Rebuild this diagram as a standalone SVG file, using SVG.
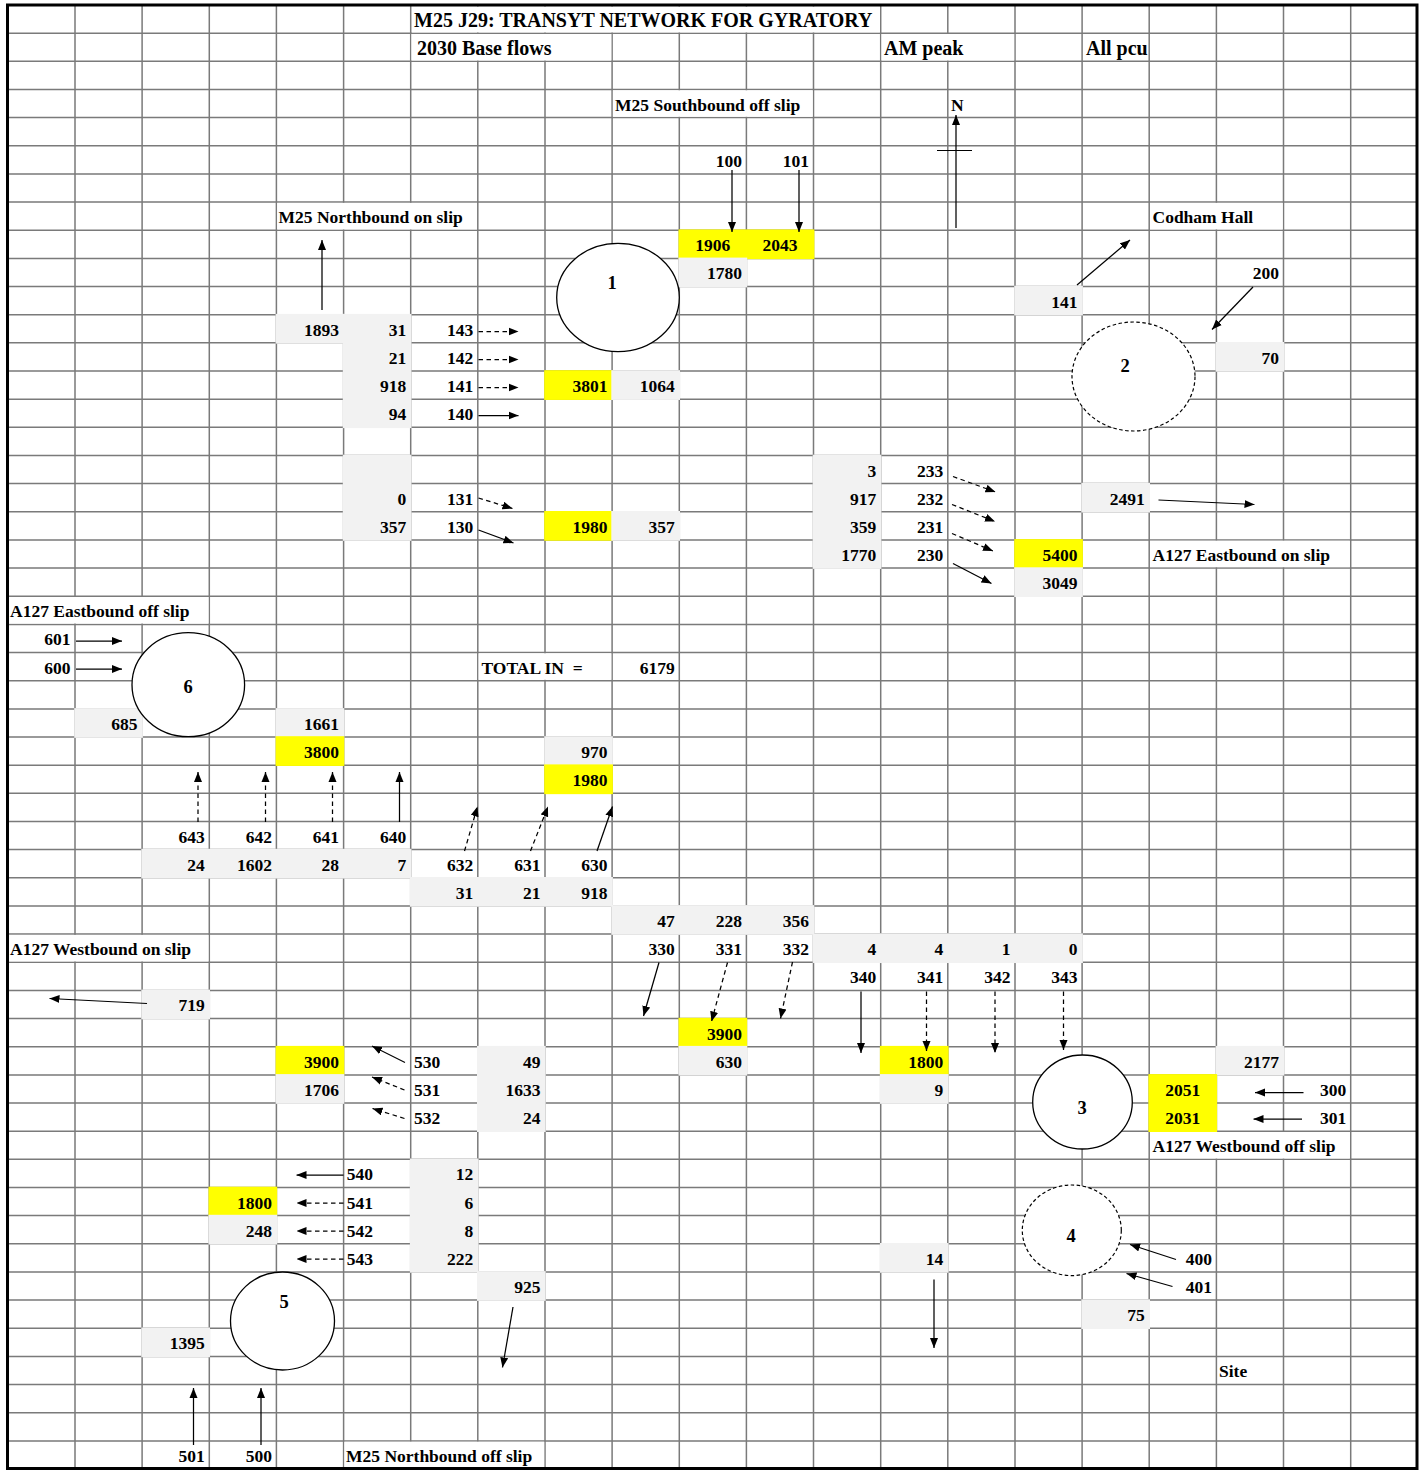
<svg xmlns="http://www.w3.org/2000/svg" width="1423" height="1470" viewBox="0 0 1423 1470">
<defs>
<style>
.grid{stroke:#7a7a7a;stroke-width:1.5;fill:none}
.ov{fill:#fff}
.g{fill:#f2f2f2}
.y{fill:#ffff00}
.c{fill:#fff;stroke:#000;stroke-width:1.3}
.cd{fill:#fff;stroke:#000;stroke-width:1.2;stroke-dasharray:3.5 2.5}
.a{stroke:#000;stroke-width:1.25;fill:none;marker-end:url(#ah)}
.d{stroke:#000;stroke-width:1.25;fill:none;stroke-dasharray:4.5 3.5;marker-end:url(#ah)}
text{font-family:"Liberation Serif","Times New Roman",serif;font-weight:bold;font-size:17.5px;fill:#000}
.h{font-size:20px}
.r{text-anchor:end}
.m{text-anchor:middle}
.n{font-size:18.5px}
</style>
<marker id="ah" viewBox="0 0 10 8" refX="10" refY="4" markerWidth="10" markerHeight="8.5" markerUnits="userSpaceOnUse" orient="auto"><path d="M0,0L10,4L0,8z" fill="#000"/></marker>
</defs>
<rect x="0" y="0" width="1423" height="1470" fill="#fff"/>
<g id="grid">
<path class="grid" d="M75,5V1469M142.1,5V1469M209.3,5V1469M276.4,5V1469M343.6,5V1469M410.7,5V1469M477.8,5V1469M545,5V1469M612.1,5V1469M679.3,5V1469M746.4,5V1469M813.5,5V1469M880.7,5V1469M947.8,5V1469M1015,5V1469M1082.1,5V1469M1149.2,5V1469M1216.4,5V1469M1283.5,5V1469M1350.7,5V1469"/>
<path class="grid" d="M8,33.2H1417M8,61.3H1417M8,89.5H1417M8,117.6H1417M8,145.8H1417M8,173.9H1417M8,202.1H1417M8,230.2H1417M8,258.4H1417M8,286.5H1417M8,314.7H1417M8,342.8H1417M8,371H1417M8,399.2H1417M8,427.3H1417M8,455.5H1417M8,483.6H1417M8,511.8H1417M8,539.9H1417M8,568.1H1417M8,596.2H1417M8,624.4H1417M8,652.5H1417M8,680.7H1417M8,708.9H1417M8,737H1417M8,765.2H1417M8,793.3H1417M8,821.5H1417M8,849.6H1417M8,877.8H1417M8,905.9H1417M8,934.1H1417M8,962.2H1417M8,990.4H1417M8,1018.6H1417M8,1046.7H1417M8,1074.9H1417M8,1103H1417M8,1131.2H1417M8,1159.3H1417M8,1187.5H1417M8,1215.6H1417M8,1243.8H1417M8,1271.9H1417M8,1300.1H1417M8,1328.3H1417M8,1356.4H1417M8,1384.6H1417M8,1412.7H1417M8,1440.9H1417"/>
</g>
<g id="overflow">
<rect class="ov" x="412" y="6.5" width="467.9" height="25.9"/>
<rect class="ov" x="411.5" y="34" width="199.8" height="26.5"/>
<rect class="ov" x="881.5" y="34" width="132.7" height="26.5"/>
<rect class="ov" x="612.9" y="90.3" width="199.8" height="26.5"/>
<rect class="ov" x="277.2" y="202.9" width="199.8" height="26.5"/>
<rect class="ov" x="1150" y="202.9" width="132.7" height="26.5"/>
<rect class="ov" x="1150" y="540.7" width="199.8" height="26.5"/>
<rect class="ov" x="9" y="597" width="199.5" height="26.5"/>
<rect class="ov" x="478.6" y="653.3" width="132.7" height="26.5"/>
<rect class="ov" x="9" y="934.9" width="199.5" height="26.5"/>
<rect class="ov" x="1150" y="1132" width="199.8" height="26.5"/>
<rect class="ov" x="344.4" y="1441.7" width="199.8" height="26.5"/>
</g>
<g id="fills">
<rect class="y" x="678.5" y="229.4" width="135.9" height="29.75"/>
<rect class="g" x="678.5" y="257.6" width="68.7" height="29.75"/>
<rect class="g" x="1014.2" y="285.7" width="68.7" height="29.75"/>
<rect class="g" x="275.6" y="313.9" width="68.7" height="29.75"/>
<rect class="g" x="342.8" y="313.9" width="68.7" height="114.2"/>
<rect class="g" x="1215.6" y="342" width="68.7" height="29.75"/>
<rect class="y" x="544.2" y="370.2" width="68.7" height="29.75"/>
<rect class="g" x="611.3" y="370.2" width="68.7" height="29.75"/>
<rect class="g" x="342.8" y="454.7" width="68.7" height="86.1"/>
<rect class="g" x="812.7" y="454.7" width="68.7" height="114.2"/>
<rect class="g" x="1081.3" y="482.8" width="68.7" height="29.75"/>
<rect class="y" x="544.2" y="511" width="68.7" height="29.75"/>
<rect class="g" x="611.3" y="511" width="68.7" height="29.75"/>
<rect class="y" x="1014.2" y="539.1" width="68.7" height="29.75"/>
<rect class="g" x="1014.2" y="567.3" width="68.7" height="29.75"/>
<rect class="g" x="74.2" y="708.1" width="68.7" height="29.75"/>
<rect class="g" x="275.6" y="708.1" width="68.7" height="29.75"/>
<rect class="y" x="275.6" y="736.2" width="68.7" height="29.75"/>
<rect class="g" x="544.2" y="736.2" width="68.7" height="29.75"/>
<rect class="y" x="544.2" y="764.4" width="68.7" height="29.75"/>
<rect class="g" x="141.3" y="848.8" width="270.2" height="29.75"/>
<rect class="g" x="409.9" y="877" width="203" height="29.75"/>
<rect class="g" x="611.3" y="905.1" width="203" height="29.75"/>
<rect class="g" x="812.7" y="933.3" width="270.2" height="29.75"/>
<rect class="g" x="141.3" y="989.6" width="68.7" height="29.75"/>
<rect class="y" x="678.5" y="1017.8" width="68.7" height="29.75"/>
<rect class="y" x="275.6" y="1045.9" width="68.7" height="29.75"/>
<rect class="g" x="477" y="1045.9" width="68.7" height="86.1"/>
<rect class="g" x="678.5" y="1045.9" width="68.7" height="29.75"/>
<rect class="y" x="879.9" y="1045.9" width="68.7" height="29.75"/>
<rect class="g" x="1215.6" y="1045.9" width="68.7" height="29.75"/>
<rect class="g" x="275.6" y="1074.1" width="68.7" height="29.75"/>
<rect class="g" x="879.9" y="1074.1" width="68.7" height="29.75"/>
<rect class="y" x="1148.4" y="1074.1" width="68.7" height="57.9"/>
<rect class="g" x="409.9" y="1158.5" width="68.7" height="114.2"/>
<rect class="y" x="208.5" y="1186.7" width="68.7" height="29.75"/>
<rect class="g" x="208.5" y="1214.8" width="68.7" height="29.75"/>
<rect class="g" x="879.9" y="1243" width="68.7" height="29.75"/>
<rect class="g" x="477" y="1271.1" width="68.7" height="29.75"/>
<rect class="g" x="1081.3" y="1299.3" width="68.7" height="29.75"/>
<rect class="g" x="141.3" y="1327.5" width="68.7" height="29.75"/>
</g>
<g id="node-1"><ellipse class="c" cx="618" cy="297.5" rx="61.3" ry="54.2"/><text class="m n" x="612" y="289">1</text></g>
<g id="node-2"><ellipse class="cd" cx="1133.5" cy="376.5" rx="61.5" ry="54.5"/><text class="m n" x="1125" y="372">2</text></g>
<g id="node-3"><ellipse class="c" cx="1082.5" cy="1102" rx="49.8" ry="47"/><text class="m n" x="1082" y="1114">3</text></g>
<g id="node-4"><ellipse class="cd" cx="1071.8" cy="1230.3" rx="49.5" ry="45.3"/><text class="m n" x="1071" y="1242">4</text></g>
<g id="node-5"><ellipse class="c" cx="282.5" cy="1321" rx="52" ry="49"/><text class="m n" x="284" y="1308">5</text></g>
<g id="node-6"><ellipse class="c" cx="188.3" cy="684.7" rx="56.3" ry="52"/><text class="m n" x="188" y="693">6</text></g>
<g id="connectors">
<line class="a" x1="956" y1="228" x2="956" y2="115"/>
<line stroke="#000" stroke-width="1.2" x1="937" y1="150.5" x2="972" y2="150.5"/>
<line class="a" x1="322" y1="310" x2="322" y2="240"/>
<line class="d" x1="478.5" y1="331.5" x2="518.5" y2="331.5"/>
<line class="d" x1="478.5" y1="359.5" x2="518.5" y2="359.5"/>
<line class="d" x1="478.5" y1="387.5" x2="518.5" y2="387.5"/>
<line class="a" x1="478.5" y1="415.5" x2="518.5" y2="415.5"/>
<line class="d" x1="478.5" y1="498" x2="512.5" y2="508.5"/>
<line class="a" x1="478.5" y1="530" x2="513.5" y2="543"/>
<line class="a" x1="732" y1="170" x2="732" y2="232"/>
<line class="a" x1="799" y1="170" x2="799" y2="232"/>
<line class="a" x1="1077" y1="285" x2="1130" y2="240"/>
<line class="a" x1="1253" y1="287" x2="1212" y2="329.5"/>
<line class="d" x1="953" y1="476.5" x2="995.5" y2="492"/>
<line class="d" x1="952" y1="504.5" x2="995" y2="521.5"/>
<line class="d" x1="952" y1="533.5" x2="993" y2="551"/>
<line class="a" x1="953" y1="563.5" x2="991.5" y2="583.5"/>
<line class="a" x1="1158.5" y1="500" x2="1254.5" y2="504.5"/>
<line class="a" x1="76" y1="641" x2="122" y2="641"/>
<line class="a" x1="76" y1="669" x2="122" y2="669"/>
<line class="d" x1="198" y1="822" x2="198" y2="772"/>
<line class="d" x1="265.5" y1="822" x2="265.5" y2="772"/>
<line class="d" x1="332.5" y1="822" x2="332.5" y2="772"/>
<line class="a" x1="399.5" y1="822" x2="399.5" y2="772"/>
<line class="d" x1="464.5" y1="851" x2="477.5" y2="806.5"/>
<line class="d" x1="530.5" y1="851" x2="548" y2="806.5"/>
<line class="a" x1="597" y1="851" x2="612.5" y2="806.5"/>
<line class="a" x1="147" y1="1003.5" x2="49.5" y2="998.5"/>
<line class="a" x1="405" y1="1062.5" x2="372" y2="1046"/>
<line class="d" x1="404.5" y1="1090" x2="372" y2="1077"/>
<line class="d" x1="404.5" y1="1118.5" x2="372.5" y2="1108.5"/>
<line class="a" x1="343.5" y1="1175" x2="296.5" y2="1175"/>
<line class="d" x1="343.5" y1="1203" x2="296.5" y2="1203"/>
<line class="d" x1="343.5" y1="1231" x2="296.5" y2="1231"/>
<line class="d" x1="343.5" y1="1259" x2="296.5" y2="1259"/>
<line class="a" x1="513" y1="1307" x2="502.5" y2="1367.5"/>
<line class="a" x1="193.5" y1="1445" x2="193.5" y2="1388"/>
<line class="a" x1="261" y1="1445" x2="261" y2="1388"/>
<line class="a" x1="659" y1="962.5" x2="643.5" y2="1016"/>
<line class="d" x1="727.5" y1="962.5" x2="711.5" y2="1021.5"/>
<line class="d" x1="792.5" y1="962" x2="780.5" y2="1018.5"/>
<line class="a" x1="861" y1="991.5" x2="861" y2="1053"/>
<line class="d" x1="926.5" y1="991.5" x2="926.5" y2="1051"/>
<line class="d" x1="995" y1="991.5" x2="995" y2="1053"/>
<line class="d" x1="1063.5" y1="991.5" x2="1063.5" y2="1050"/>
<line class="a" x1="1303.5" y1="1092.5" x2="1255" y2="1092.5"/>
<line class="a" x1="1302" y1="1119" x2="1253.5" y2="1119"/>
<line class="a" x1="1176" y1="1259.5" x2="1130" y2="1244.5"/>
<line class="a" x1="1172.5" y1="1286.5" x2="1126.5" y2="1273.5"/>
<line class="a" x1="934" y1="1279.5" x2="934" y2="1348"/>
</g>
<g id="labels">
<text class="h" x="414" y="26.5">M25 J29: TRANSYT NETWORK FOR GYRATORY</text>
<text class="h" x="417" y="54.7">2030 Base flows</text>
<text class="h" x="884" y="54.7">AM peak</text>
<text class="h" x="1086" y="54.7">All pcu</text>
<text x="615" y="110.5">M25 Southbound off slip</text>
<text x="951" y="110.5">N</text>
<text class="r" x="741.9" y="166.8">100</text>
<text class="r" x="809" y="166.8">101</text>
<text x="278.5" y="223.1">M25 Northbound on slip</text>
<text x="1152.5" y="223.1">Codham Hall</text>
<text class="m" x="712.8" y="251.2">1906</text>
<text class="m" x="780" y="251.2">2043</text>
<text class="r" x="741.9" y="279.4">1780</text>
<text class="r" x="1279" y="279.4">200</text>
<text class="r" x="1077.6" y="307.5">141</text>
<text class="r" x="339.1" y="335.7">1893</text>
<text class="r" x="406.2" y="335.7">31</text>
<text class="r" x="473.3" y="335.7">143</text>
<text class="r" x="406.2" y="363.8">21</text>
<text class="r" x="473.3" y="363.8">142</text>
<text class="r" x="1279" y="363.8">70</text>
<text class="r" x="406.2" y="392">918</text>
<text class="r" x="473.3" y="392">141</text>
<text class="r" x="607.6" y="392">3801</text>
<text class="r" x="674.8" y="392">1064</text>
<text class="r" x="406.2" y="420.2">94</text>
<text class="r" x="473.3" y="420.2">140</text>
<text class="r" x="876.2" y="476.5">3</text>
<text class="r" x="943.3" y="476.5">233</text>
<text class="r" x="406.2" y="504.6">0</text>
<text class="r" x="473.3" y="504.6">131</text>
<text class="r" x="876.2" y="504.6">917</text>
<text class="r" x="943.3" y="504.6">232</text>
<text class="r" x="1144.7" y="504.6">2491</text>
<text class="r" x="406.2" y="532.8">357</text>
<text class="r" x="473.3" y="532.8">130</text>
<text class="r" x="607.6" y="532.8">1980</text>
<text class="r" x="674.8" y="532.8">357</text>
<text class="r" x="876.2" y="532.8">359</text>
<text class="r" x="943.3" y="532.8">231</text>
<text class="r" x="876.2" y="560.9">1770</text>
<text class="r" x="943.3" y="560.9">230</text>
<text class="r" x="1077.6" y="560.9">5400</text>
<text x="1152.5" y="560.9">A127 Eastbound on slip</text>
<text class="r" x="1077.6" y="589.1">3049</text>
<text x="10" y="617.2">A127 Eastbound off slip</text>
<text class="r" x="70.5" y="645.4">601</text>
<text class="r" x="70.5" y="673.5">600</text>
<text x="481.5" y="673.5" xml:space="preserve">TOTAL IN  =</text>
<text class="r" x="674.8" y="673.5">6179</text>
<text class="r" x="137.6" y="729.9">685</text>
<text class="r" x="339.1" y="729.9">1661</text>
<text class="r" x="339.1" y="758">3800</text>
<text class="r" x="607.6" y="758">970</text>
<text class="r" x="607.6" y="786.2">1980</text>
<text class="r" x="204.8" y="842.5">643</text>
<text class="r" x="271.9" y="842.5">642</text>
<text class="r" x="339.1" y="842.5">641</text>
<text class="r" x="406.2" y="842.5">640</text>
<text class="r" x="204.8" y="870.6">24</text>
<text class="r" x="271.9" y="870.6">1602</text>
<text class="r" x="339.1" y="870.6">28</text>
<text class="r" x="406.2" y="870.6">7</text>
<text class="r" x="473.3" y="870.6">632</text>
<text class="r" x="540.5" y="870.6">631</text>
<text class="r" x="607.6" y="870.6">630</text>
<text class="r" x="473.3" y="898.8">31</text>
<text class="r" x="540.5" y="898.8">21</text>
<text class="r" x="607.6" y="898.8">918</text>
<text class="r" x="674.8" y="926.9">47</text>
<text class="r" x="741.9" y="926.9">228</text>
<text class="r" x="809" y="926.9">356</text>
<text x="10" y="955.1">A127 Westbound on slip</text>
<text class="r" x="674.8" y="955.1">330</text>
<text class="r" x="741.9" y="955.1">331</text>
<text class="r" x="809" y="955.1">332</text>
<text class="r" x="876.2" y="955.1">4</text>
<text class="r" x="943.3" y="955.1">4</text>
<text class="r" x="1010.5" y="955.1">1</text>
<text class="r" x="1077.6" y="955.1">0</text>
<text class="r" x="876.2" y="983.2">340</text>
<text class="r" x="943.3" y="983.2">341</text>
<text class="r" x="1010.5" y="983.2">342</text>
<text class="r" x="1077.6" y="983.2">343</text>
<text class="r" x="204.8" y="1011.4">719</text>
<text class="r" x="741.9" y="1039.6">3900</text>
<text class="r" x="339.1" y="1067.7">3900</text>
<text x="414" y="1067.7">530</text>
<text class="r" x="540.5" y="1067.7">49</text>
<text class="r" x="741.9" y="1067.7">630</text>
<text class="r" x="943.3" y="1067.7">1800</text>
<text class="r" x="1279" y="1067.7">2177</text>
<text class="r" x="339.1" y="1095.9">1706</text>
<text x="414" y="1095.9">531</text>
<text class="r" x="540.5" y="1095.9">1633</text>
<text class="r" x="943.3" y="1095.9">9</text>
<text class="m" x="1182.8" y="1095.9">2051</text>
<text class="r" x="1346.2" y="1095.9">300</text>
<text x="414" y="1124">532</text>
<text class="r" x="540.5" y="1124">24</text>
<text class="m" x="1182.8" y="1124">2031</text>
<text class="r" x="1346.2" y="1124">301</text>
<text x="1152.5" y="1152.2">A127 Westbound off slip</text>
<text x="346.8" y="1180.3">540</text>
<text class="r" x="473.3" y="1180.3">12</text>
<text class="r" x="271.9" y="1208.5">1800</text>
<text x="346.8" y="1208.5">541</text>
<text class="r" x="473.3" y="1208.5">6</text>
<text class="r" x="271.9" y="1236.6">248</text>
<text x="346.8" y="1236.6">542</text>
<text class="r" x="473.3" y="1236.6">8</text>
<text x="346.8" y="1264.8">543</text>
<text class="r" x="473.3" y="1264.8">222</text>
<text class="r" x="943.3" y="1264.8">14</text>
<text class="r" x="1211.9" y="1264.8">400</text>
<text class="r" x="540.5" y="1292.9">925</text>
<text class="r" x="1211.9" y="1292.9">401</text>
<text class="r" x="1144.7" y="1321.1">75</text>
<text class="r" x="204.8" y="1349.3">1395</text>
<text x="1219" y="1377.4">Site</text>
<text class="r" x="204.8" y="1461.9">501</text>
<text class="r" x="271.9" y="1461.9">500</text>
<text x="346" y="1461.9">M25 Northbound off slip</text>
</g>
<rect x="7.5" y="5" width="1409.5" height="1463.5" fill="none" stroke="#000" stroke-width="3"/>
</svg>
